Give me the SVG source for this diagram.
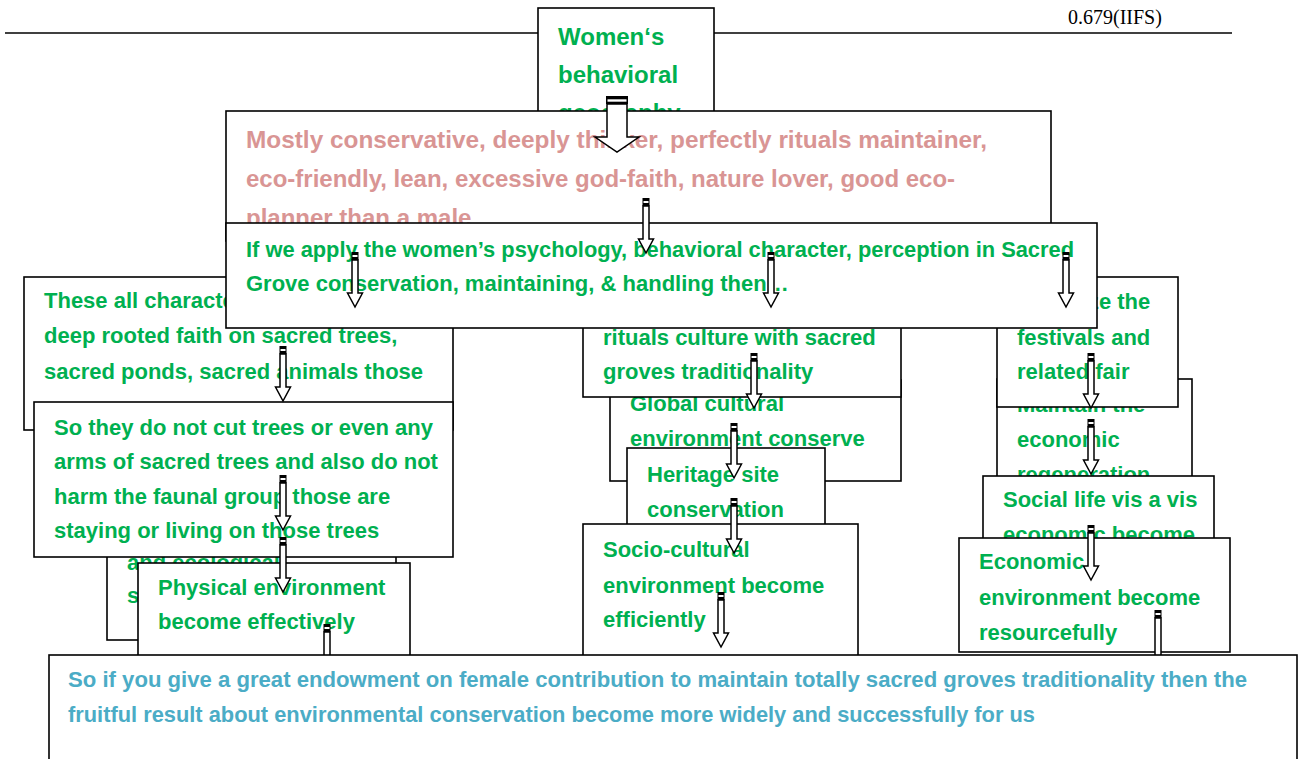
<svg xmlns="http://www.w3.org/2000/svg" xmlns:xlink="http://www.w3.org/1999/xlink" width="1300" height="759" viewBox="0 0 1300 759">
<style>
.box{fill:#fff;stroke:#000;stroke-width:1.6}
.g{font-family:"Liberation Sans",Arial,sans-serif;font-weight:bold;font-size:22px;fill:#00b050}
.p{font-family:"Liberation Sans",Arial,sans-serif;font-weight:bold;font-size:24px;fill:#d99594}
.t{font-family:"Liberation Sans",Arial,sans-serif;font-weight:bold;font-size:22px;fill:#4bacc6}
.w{font-size:24px}
.ar{fill:#fff;stroke:#000;stroke-width:1.5}
</style>
<defs>
<g id="arr">
<path class="ar" d="M-3,8 V41 H-7.5 L0,55 L7.5,41 H3 V8 Z"/>
<rect x="-3.5" y="0" width="7" height="8" fill="#000"/>
<rect x="-2.5" y="3" width="5" height="2" fill="#fff"/>
</g>
<g id="stub">
<path class="ar" d="M-3,8 V60 H3 V8 Z"/>
<rect x="-3.5" y="0" width="7" height="8" fill="#000"/>
<rect x="-2.5" y="3" width="5" height="2" fill="#fff"/>
</g>
</defs>
<rect width="1300" height="759" fill="#fff"/>
<line x1="5" y1="33" x2="1232" y2="33" stroke="#000" stroke-width="1.6"/>
<text x="1068" y="24" font-family="Liberation Serif,Times New Roman,serif" font-size="20" fill="#000">0.679(IIFS)</text>

<g id="n-women"><rect class="box" x="538" y="8" width="176" height="130"/>
<text class="g w" x="558" y="45">Women‘s</text><text class="g w" x="558" y="83">behavioral</text><text class="g w" x="558" y="121">geography</text></g>

<g id="n-traits"><rect class="box" x="226" y="111" width="825" height="130"/>
<text class="p" x="246" y="148" textLength="741" lengthAdjust="spacingAndGlyphs">Mostly conservative, deeply thinker, perfectly rituals maintainer,</text>
<text class="p" x="246" y="187">eco-friendly, lean, excessive god-faith, nature lover, good eco-</text>
<text class="p" x="246" y="226">planner than a male</text></g>

<g id="n-left1"><rect class="box" x="24" y="277" width="429" height="153"/>
<text class="g" x="44" y="308">These all characteristics</text>
<text class="g" x="44" y="343">deep rooted faith on sacred trees,</text>
<text class="g" x="44" y="379">sacred ponds, sacred animals those</text></g>

<g id="n-left3"><rect class="box" x="107" y="500" width="289" height="140"/>
<text class="g" x="127" y="570">and ecological</text>
<text class="g" x="127" y="603">s</text></g>

<g id="n-mid2"><rect class="box" x="610" y="380" width="291" height="101"/>
<text class="g" x="630" y="411">Global cultural</text>
<text class="g" x="630" y="446">environment conserve</text></g>

<g id="n-mid1"><rect class="box" x="583" y="295" width="318" height="102"/>
<text class="g" x="603" y="345">rituals culture with sacred</text>
<text class="g" x="603" y="379">groves traditionality</text></g>

<g id="n-right2"><rect class="box" x="997" y="379" width="195" height="120"/>
<text class="g" x="1017" y="412">Maintain the</text>
<text class="g" x="1017" y="447">economic</text>
<text class="g" x="1017" y="482">regeneration</text></g>

<g id="n-right1"><rect class="box" x="997" y="277" width="181" height="130"/>
<text class="g" x="1017" y="309">Organize the</text>
<text class="g" x="1017" y="345">festivals and</text>
<text class="g" x="1017" y="379">related fair</text></g>

<g id="n-apply"><rect class="box" x="226" y="223" width="871" height="105"/>
<text class="g" x="246" y="257" textLength="828" lengthAdjust="spacingAndGlyphs">If we apply the women’s psychology, behavioral character, perception in Sacred</text>
<text class="g" x="246" y="291">Grove conservation, maintaining, &amp; handling then…</text></g>

<g id="n-left2"><rect class="box" x="34" y="402" width="419" height="155"/>
<text class="g" x="54" y="435">So they do not cut trees or even any</text>
<text class="g" x="54" y="469">arms of sacred trees and also do not</text>
<text class="g" x="54" y="504">harm the faunal group those are</text>
<text class="g" x="54" y="538">staying or living on those trees</text></g>

<g id="n-left4"><rect class="box" x="138" y="563" width="272" height="100"/>
<text class="g" x="158" y="595">Physical environment</text>
<text class="g" x="158" y="629">become effectively</text></g>

<g id="n-mid3"><rect class="box" x="627" y="448" width="198" height="100"/>
<text class="g" x="647" y="482">Heritage site</text>
<text class="g" x="647" y="517">conservation</text></g>

<g id="n-mid4"><rect class="box" x="583" y="524" width="275" height="140"/>
<text class="g" x="603" y="557">Socio-cultural</text>
<text class="g" x="603" y="593">environment become</text>
<text class="g" x="603" y="627">efficiently</text></g>

<g id="n-right3"><rect class="box" x="983" y="476" width="231" height="90"/>
<text class="g" x="1003" y="507">Social life vis a vis</text>
<text class="g" x="1003" y="542">economic become</text></g>

<g id="n-right4"><rect class="box" x="959" y="538" width="271" height="114"/>
<text class="g" x="979" y="569">Economic</text>
<text class="g" x="979" y="605">environment become</text>
<text class="g" x="979" y="640">resourcefully</text></g>

<g id="connectors">
<g>
<path class="ar" d="M607,104 V137 H595 L617,152 L639,137 H627 V104 Z"/>
<rect x="606" y="96" width="22" height="8" fill="#000"/>
<rect x="607.5" y="99.3" width="19" height="2.4" fill="#fff"/>
</g>
<use xlink:href="#arr" x="646" y="198"/>
<use xlink:href="#arr" x="355" y="252"/>
<use xlink:href="#arr" x="771" y="252"/>
<use xlink:href="#arr" x="1066" y="252"/>
<use xlink:href="#arr" x="283" y="346"/>
<use xlink:href="#arr" x="283" y="475"/>
<use xlink:href="#arr" x="283" y="537"/>
<use xlink:href="#stub" x="327" y="624"/>
<use xlink:href="#arr" x="754" y="353"/>
<use xlink:href="#arr" x="734" y="423"/>
<use xlink:href="#arr" x="734" y="498"/>
<use xlink:href="#arr" x="721" y="592"/>
<use xlink:href="#arr" x="1091" y="353"/>
<use xlink:href="#arr" x="1091" y="419"/>
<use xlink:href="#arr" x="1091" y="525"/>
<use xlink:href="#stub" x="1158" y="610"/>
</g>

<g id="n-result"><rect class="box" x="49" y="655" width="1248" height="110"/>
<text class="t" x="68" y="687" textLength="1179" lengthAdjust="spacingAndGlyphs">So if you give a great endowment on female contribution to maintain totally sacred groves traditionality then the</text>
<text class="t" x="68" y="722" textLength="967" lengthAdjust="spacingAndGlyphs">fruitful result about environmental conservation become more widely and successfully for us</text></g>
</svg>
